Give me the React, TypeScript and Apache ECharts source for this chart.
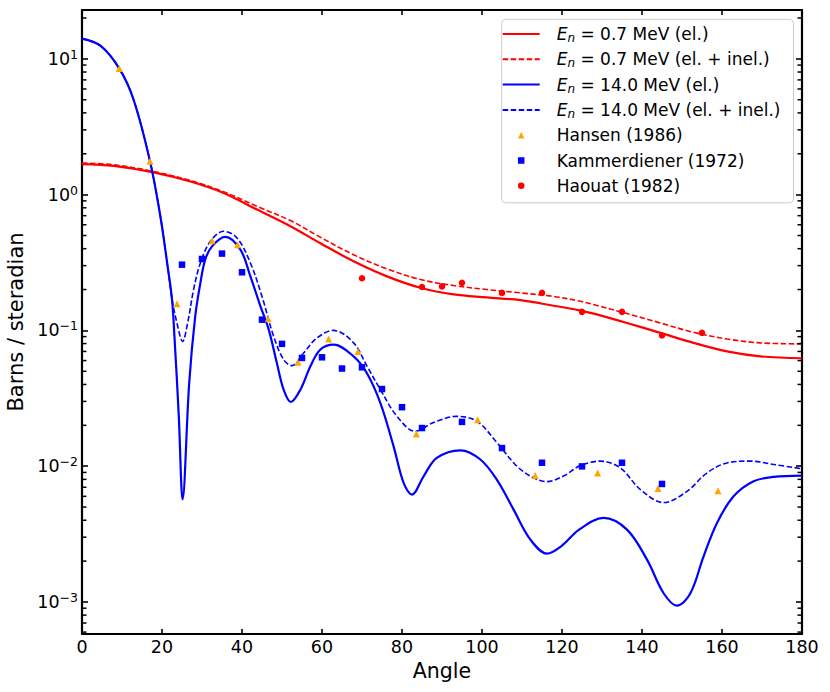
import React, { useEffect, useRef } from "react";
import * as echarts from "echarts";

const FONT = "DejaVu Sans";

// ---- Data ----
const X_TICKS_INTERVAL = 20;
const Y_MIN = 5.81e-4;
const Y_MAX = 22.9;
const Y_MINOR_TICKS = [
  6e-4, 7e-4, 8e-4, 9e-4,
  2e-3, 3e-3, 4e-3, 5e-3, 6e-3, 7e-3, 8e-3, 9e-3,
  2e-2, 3e-2, 4e-2, 5e-2, 6e-2, 7e-2, 8e-2, 9e-2,
  0.2, 0.3, 0.4, 0.5, 0.6, 0.7, 0.8, 0.9,
  2, 3, 4, 5, 6, 7, 8, 9,
  20,
];

const SERIES_NAMES = [
  "En = 0.7 MeV (el.)",
  "En = 0.7 MeV (el. + inel.)",
  "En = 14.0 MeV (el.)",
  "En = 14.0 MeV (el. + inel.)",
  "Hansen (1986)",
  "Kammerdiener (1972)",
  "Haouat (1982)",
];

// 0.7 MeV elastic
const R07_EL_ANGLE = [0, 7.9, 17.9, 27.1, 35.4, 43.75, 52.1, 59.6, 67.9, 76.25, 84.6, 92.9, 101.25, 109.6, 117.9, 124.6, 127.9, 136.25, 144.6, 152.9, 161.25, 169.6, 180];
const R07_EL_VAL = [1.68, 1.63, 1.46, 1.25, 1.03, 0.776, 0.585, 0.438, 0.323, 0.25, 0.206, 0.184, 0.175, 0.167, 0.152, 0.14, 0.133, 0.1135, 0.0959, 0.0809, 0.0701, 0.0644, 0.0624];

// 0.7 MeV elastic + inelastic
const R07_TOT_ANGLE = [0, 7.9, 17.9, 27.1, 35.4, 43.75, 52.1, 59.6, 67.9, 76.25, 84.6, 92.9, 101.25, 109.6, 117.9, 124.6, 127.9, 136.25, 144.6, 152.9, 161.25, 169.6, 180];
const R07_TOT_VAL = [1.71, 1.66, 1.48, 1.27, 1.05, 0.82, 0.644, 0.485, 0.361, 0.284, 0.237, 0.214, 0.2, 0.189, 0.178, 0.164, 0.155, 0.133, 0.1135, 0.0968, 0.0865, 0.0809, 0.0796];

// 14 MeV elastic
const B14_EL_ANGLE = [0, 4.6, 9.3, 12.9, 17.0, 19.6, 21.4, 22.5, 23.3, 24.2, 25.15, 26.8, 28.3, 29.6, 30.8, 32.5, 35.8, 39.6, 42.1, 44.6, 46.7, 48.7, 50.4, 52.2, 54.6, 57.1, 59.6, 62.9, 67.9, 71.2, 74.6, 77.9, 80.4, 82.5, 85.4, 88.7, 94.6, 99.6, 103.7, 107.9, 112.1, 116.25, 120.0, 124.2, 130.4, 136.25, 141.25, 145.4, 148.75, 152.1, 155.4, 158.75, 162.9, 167.9, 172.9, 180];
const B14_EL_VAL = [14.1, 12.5, 8.5, 5.0, 1.76, 0.69, 0.297, 0.169, 0.072, 0.0233, 0.0057, 0.041, 0.127, 0.224, 0.332, 0.416, 0.489, 0.394, 0.25, 0.151, 0.101, 0.0577, 0.0366, 0.0297, 0.0366, 0.0544, 0.0723, 0.0785, 0.0644, 0.0486, 0.0292, 0.014, 0.00753, 0.00618, 0.00843, 0.0115, 0.0131, 0.0112, 0.00796, 0.00479, 0.00288, 0.00227, 0.0026, 0.0034, 0.00416, 0.00341, 0.00205, 0.00116, 0.00094, 0.00116, 0.00217, 0.00382, 0.006, 0.00774, 0.00834, 0.00853];

// 14 MeV elastic + inelastic
const B14_TOT_ANGLE = [0, 4.6, 9.3, 12.9, 17.0, 19.6, 21.4, 22.5, 23.75, 25.15, 26.4, 27.9, 29.6, 32.1, 35.4, 38.75, 42.1, 45, 47.9, 50.4, 52.5, 55.4, 58.75, 62.9, 67.9, 71.25, 74.6, 78.75, 83.3, 87.9, 93.75, 98.75, 103.75, 108.75, 112.9, 116.25, 120.5, 124.6, 129.6, 134.6, 139.6, 145.4, 151.25, 156.25, 161.25, 167.1, 172.9, 180];
const B14_TOT_VAL = [14.1, 12.5, 8.5, 5.0, 1.76, 0.69, 0.297, 0.17, 0.113, 0.083, 0.113, 0.2, 0.314, 0.453, 0.537, 0.48, 0.314, 0.178, 0.0906, 0.061, 0.055, 0.0682, 0.0881, 0.1, 0.081, 0.0545, 0.0366, 0.0233, 0.0181, 0.021, 0.0233, 0.0214, 0.0149, 0.00998, 0.0082, 0.0077, 0.0085, 0.0101, 0.0109, 0.0097, 0.00673, 0.0054, 0.00653, 0.00893, 0.01057, 0.0109, 0.0103, 0.00957];

// Experimental points
const HANSEN_ANGLE = [9.3, 17.0, 23.75, 32.5, 38.9, 46.5, 54.0, 61.65, 69.0, 83.6, 98.9, 113.3, 128.9, 144.0, 159.0];
const HANSEN_VAL = [8.5, 1.76, 0.157, 0.458, 0.428, 0.122, 0.0582, 0.0865, 0.07, 0.0173, 0.022, 0.00853, 0.0089, 0.00685, 0.0066];

const KAMMER_ANGLE = [25, 30, 35, 40, 45, 50, 55, 60, 65, 70, 75, 80, 85, 95, 105, 115, 125, 135, 145];
const KAMMER_VAL = [0.305, 0.336, 0.368, 0.268, 0.12, 0.0796, 0.0627, 0.0634, 0.0524, 0.0535, 0.037, 0.0272, 0.0191, 0.0212, 0.0136, 0.0106, 0.00997, 0.0106, 0.0074];

const HAOUAT_ANGLE = [70, 85, 90, 95, 105, 115, 125, 135, 145, 155];
const HAOUAT_VAL = [0.242, 0.209, 0.211, 0.224, 0.189, 0.189, 0.137, 0.137, 0.0917, 0.096];

const zip = (a: number[], b: number[]) => a.map((x, i) => [x, b[i]]);

const BLUE = "#0000ff";
const RED = "#ff0000";
const ORANGE = "#ffa500";

const LEGEND_MARKER_ICONS = [
  "path://M1,0L2,2L0,2Z",
  "path://M0,0L2,0L2,2L0,2Z",
  "path://M0,1A1,1,0,1,1,2,1A1,1,0,1,1,0,1Z",
];

export default function App() {
  const ref = useRef<HTMLDivElement>(null);

  useEffect(() => {
    if (!ref.current) return;
    const chart = echarts.init(ref.current, null, { renderer: "svg" });

    const grid = { left: 82, top: 10, width: 720, height: 624 };

    const legendText = (name: string) => {
      if (name.startsWith("En")) {
        return "{gap| }{i|E}{sub|n}{t|" + name.slice(2) + "}";
      }
      return "{gap| }{t|" + name + "}";
    };

    const yLabel = (v: number) => {
      const e = Math.log10(v);
      const r = Math.round(e);
      if (Math.abs(e - r) > 1e-6) return "";
      const sup = r < 0 ? "\u2212" + -r : String(r);
      return "{b|10}{s|" + sup + "}";
    };

    const lineSeries = (name: string, data: number[][], color: string, dashed: boolean) => ({
      name,
      type: "line",
      data,
      xAxisIndex: 0,
      yAxisIndex: 0,
      showSymbol: false,
      symbol: "none",
      smooth: 0.35,
      clip: true,
      z: 3,
      lineStyle: dashed
        ? { color, width: 1.6, type: [5.5, 2.5] }
        : { color, width: 2.2, type: "solid" },
      itemStyle: { color },
      emphasis: { disabled: true },
    });

    const scatterSeries = (name: string, data: number[][], color: string, symbol: string, size: number) => ({
      name,
      type: "scatter",
      data,
      xAxisIndex: 0,
      yAxisIndex: 0,
      symbol,
      symbolSize: size,
      itemStyle: { color, opacity: 1 },
      z: 4,
      emphasis: { disabled: true },
    });

    const legendData = SERIES_NAMES.map((name, i) =>
      i < 4
        ? { name, itemStyle: { opacity: 0, color: "rgba(0,0,0,0)", borderWidth: 0 } }
        : { name, icon: LEGEND_MARKER_ICONS[i - 4] }
    );

    const option: any = {
      animation: false,
      backgroundColor: "#ffffff",
      textStyle: { fontFamily: FONT },
      grid: { ...grid, containLabel: false, outerBoundsMode: "none" },
      legend: {
        orient: "vertical",
        left: 501.7,
        top: 19.3,
        padding: [4.7, 13, 7, 0],
        itemWidth: 37,
        itemHeight: 6.5,
        itemGap: 5.3,
        symbolKeepAspect: true,
        backgroundColor: "rgba(255,255,255,0.85)",
        borderColor: "#cccccc",
        borderWidth: 1,
        borderRadius: 4,
        selectedMode: false,
        data: legendData,
        formatter: legendText,
        textStyle: {
          fontFamily: FONT,
          fontSize: 17,
          color: "#000",
          lineHeight: 20,
          rich: {
            gap: { width: 12, fontSize: 17, lineHeight: 20 },
            i: { fontStyle: "italic", fontSize: 17, fontFamily: FONT, color: "#000", lineHeight: 20 },
            sub: { fontStyle: "italic", fontSize: 12, fontFamily: FONT, color: "#000", lineHeight: 12, verticalAlign: "bottom" },
            t: { fontSize: 17, fontFamily: FONT, color: "#000", lineHeight: 20 },
          },
        },
      },
      xAxis: [
        {
          type: "value",
          position: "bottom",
          min: 0,
          max: 180,
          interval: X_TICKS_INTERVAL,
          name: "Angle",
          nameLocation: "middle",
          nameGap: 24,
          nameTextStyle: { fontFamily: FONT, fontSize: 20.5, color: "#000" },
          axisLine: { show: true, onZero: false, lineStyle: { color: "#000", width: 2.2 } },
          axisTick: { show: true, inside: true, length: 5, lineStyle: { color: "#000", width: 1.6 } },
          axisLabel: { show: true, margin: 4, fontFamily: FONT, fontSize: 17.5, color: "#000" },
          splitLine: { show: false },
          minorTick: { show: false },
        },
        {
          type: "value",
          position: "top",
          min: 0,
          max: 180,
          interval: X_TICKS_INTERVAL,
          axisLine: { show: true, onZero: false, lineStyle: { color: "#000", width: 2.2 } },
          axisTick: { show: true, inside: true, length: 5, lineStyle: { color: "#000", width: 1.6 } },
          axisLabel: { show: false },
          splitLine: { show: false },
        },
      ],
      yAxis: [
        {
          type: "log",
          logBase: 10,
          position: "left",
          min: Y_MIN,
          max: Y_MAX,
          name: "Barns / steradian",
          nameLocation: "middle",
          nameGap: 50,
          nameTextStyle: { fontFamily: FONT, fontSize: 21, color: "#000" },
          axisLine: { show: true, onZero: false, lineStyle: { color: "#000", width: 2.2 } },
          axisTick: { show: true, inside: true, length: 6, lineStyle: { color: "#000", width: 1.6 } },
          axisLabel: {
            show: true,
            margin: 4,
            showMinLabel: false,
            showMaxLabel: false,
            formatter: yLabel,
            rich: {
              b: { fontFamily: FONT, fontSize: 17.5, color: "#000", lineHeight: 22 },
              s: { fontFamily: FONT, fontSize: 12.5, color: "#000", lineHeight: 14, verticalAlign: "top" },
            },
          },
          splitLine: { show: false },
          minorTick: { show: false },
        },
        {
          type: "log",
          logBase: 10,
          position: "right",
          min: Y_MIN,
          max: Y_MAX,
          axisLine: { show: true, onZero: false, lineStyle: { color: "#000", width: 2.2 } },
          axisTick: { show: true, inside: true, length: 6, lineStyle: { color: "#000", width: 1.6 } },
          axisLabel: { show: false },
          splitLine: { show: false },
        },
      ],
      series: [
        lineSeries(SERIES_NAMES[0], zip(R07_EL_ANGLE, R07_EL_VAL), RED, false),
        lineSeries(SERIES_NAMES[1], zip(R07_TOT_ANGLE, R07_TOT_VAL), RED, true),
        lineSeries(SERIES_NAMES[2], zip(B14_EL_ANGLE, B14_EL_VAL), BLUE, false),
        lineSeries(SERIES_NAMES[3], zip(B14_TOT_ANGLE, B14_TOT_VAL), BLUE, true),
        scatterSeries(SERIES_NAMES[4], zip(HANSEN_ANGLE, HANSEN_VAL), ORANGE, "triangle", 7),
        scatterSeries(SERIES_NAMES[5], zip(KAMMER_ANGLE, KAMMER_VAL), BLUE, "rect", 6.5),
        scatterSeries(SERIES_NAMES[6], zip(HAOUAT_ANGLE, HAOUAT_VAL), RED, "circle", 6.5),
        {
          name: "minorTicks",
          type: "custom",
          xAxisIndex: 0,
          yAxisIndex: 0,
          silent: true,
          clip: false,
          z: 6,
          data: Y_MINOR_TICKS.map((v) => [0, v]),
          renderItem: (params: any, api: any) => {
            const y = api.coord([0, api.value(1)])[1];
            const cs = params.coordSys;
            const len = 4.5;
            const st = { stroke: "#000", lineWidth: 1.5 };
            return {
              type: "group",
              children: [
                { type: "line", shape: { x1: cs.x, y1: y, x2: cs.x + len, y2: y }, style: st },
                { type: "line", shape: { x1: cs.x + cs.width - len, y1: y, x2: cs.x + cs.width, y2: y }, style: st },
              ],
            };
          },
        },
      ],
    };

    chart.setOption(option);
    return () => chart.dispose();
  }, []);

  return (
    <div
      ref={ref}
      style={{ position: "absolute", left: 0, top: 0, width: 830, height: 692 }}
    />
  );
}
